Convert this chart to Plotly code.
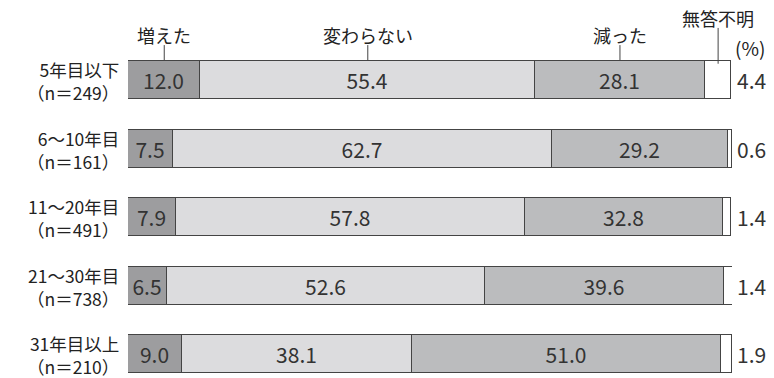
import plotly.graph_objects as go

categories = ["5年目以下", "6～10年目", "11～20年目", "21～30年目", "31年目以上"]
sample_sizes = ["（n＝249）", "（n＝161）", "（n＝491）", "（n＝738）", "（n＝210）"]
series_names = ["増えた", "変わらない", "減った", "無答不明"]
increased = [12.0, 7.5, 7.9, 6.5, 9.0]
unchanged = [55.4, 62.7, 57.8, 52.6, 38.1]
decreased = [28.1, 29.2, 32.8, 39.6, 51.0]
no_answer = [4.4, 0.6, 1.4, 1.4, 1.9]

series = [increased, unchanged, decreased, no_answer]
colors = ["#9d9d9f", "#dcdcde", "#bbbcbe", "#ffffff"]
FONT = "Noto Sans CJK JP"
TXT = "#333333"
LBL = "#222222"

ypos = list(range(len(categories)))
bar_w = 0.555

fig = go.Figure()
for k, (name, vals) in enumerate(zip(series_names, series)):
    show_text = k < 3
    fig.add_trace(go.Bar(
        y=ypos, x=vals, orientation="h", name=name, width=bar_w,
        marker=dict(color=colors[k], line=dict(color="#444444", width=1)),
        text=[f"{v:.1f}" for v in vals] if show_text else None,
        textposition="inside" if show_text else "none",
        insidetextanchor="middle",
        textfont=dict(family=FONT, size=21, color=TXT),
        constraintext="none",
        hoverinfo="skip",
    ))

annotations = []
shapes = []
for i, (c, n) in enumerate(zip(categories, sample_sizes)):
    annotations.append(dict(
        xref="paper", yref="y", x=-0.011, y=i + 0.02, xanchor="right", yanchor="middle",
        text=f"{c}<br>{n}", align="right", showarrow=False,
        font=dict(family=FONT, size=17.5, color=LBL),
    ))
    annotations.append(dict(
        xref="x", yref="y", x=100, y=i, xanchor="left", yanchor="middle", xshift=3,
        text=f"{no_answer[i]:.1f}", showarrow=False,
        font=dict(family=FONT, size=21, color=TXT),
    ))

top = -bar_w / 2
cum = 0
for k, name in enumerate(series_names):
    v = series[k][0]
    cx = cum + v / 2
    cum += v
    if k < 3:
        annotations.append(dict(xref="x", yref="y", x=cx, y=-0.66, text=name, showarrow=False,
                                xanchor="center", yanchor="middle",
                                font=dict(family=FONT, size=18, color=LBL)))
        shapes.append(dict(type="line", xref="x", yref="y", x0=cx, x1=cx, y0=-0.51, y1=top,
                           line=dict(color="#444444", width=1)))
    else:
        annotations.append(dict(xref="x", yref="y", x=cx, y=-0.905, text=name, showarrow=False,
                                xanchor="center", yanchor="middle",
                                font=dict(family=FONT, size=18, color=LBL)))
        shapes.append(dict(type="line", xref="x", yref="y", x0=cx, x1=cx, y0=-0.76, y1=top + 0.04,
                           line=dict(color="#444444", width=1)))

annotations.append(dict(xref="x", yref="y", x=100, y=-0.48, xanchor="left", xshift=1,
                        yanchor="middle", text="(%)", showarrow=False,
                        font=dict(family=FONT, size=19, color=LBL)))

fig.update_layout(
    width=774, height=378,
    margin=dict(l=128, r=42, t=0, b=0),
    barmode="stack", bargap=0,
    plot_bgcolor="white", paper_bgcolor="white",
    showlegend=False,
    xaxis=dict(range=[0, 100], visible=False, fixedrange=True),
    yaxis=dict(range=[4.35, -1.168], visible=False, fixedrange=True),
    annotations=annotations, shapes=shapes,
)
fig.write_html("out.html")
